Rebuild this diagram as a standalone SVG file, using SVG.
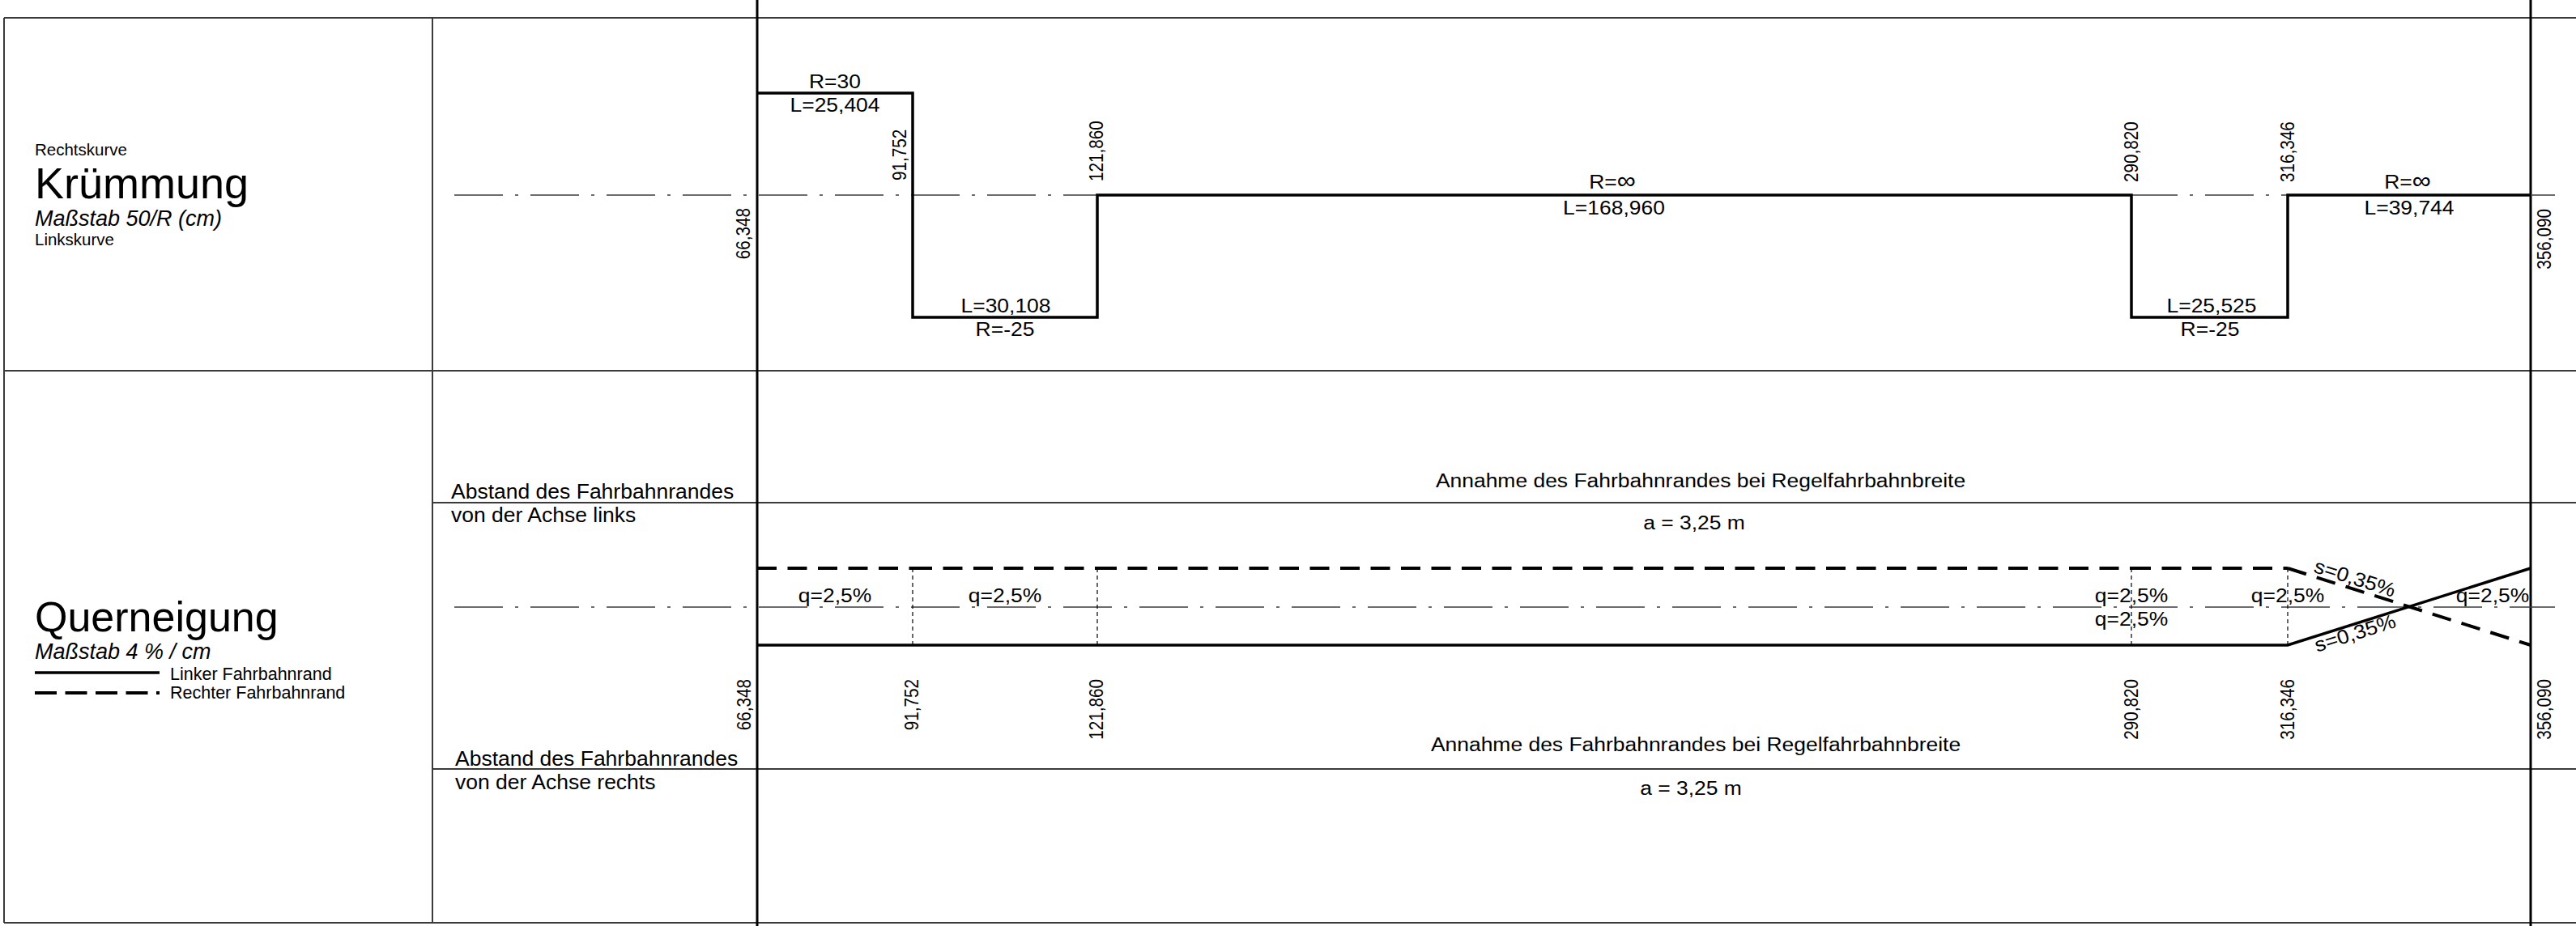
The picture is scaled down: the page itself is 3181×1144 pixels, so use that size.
<svg xmlns="http://www.w3.org/2000/svg" width="3181" height="1144" viewBox="0 0 3181 1144">
<style>
.frame{stroke:#3a3a3a;stroke-width:2;fill:none}
.bold{stroke:#000;stroke-width:3;fill:none}
.thick{stroke:#000;stroke-width:3.5;fill:none;stroke-linejoin:miter}
.axis{stroke:#3c3c3c;stroke-width:1.5;fill:none;stroke-dasharray:60 15 4 15}
.edgeL{stroke:#000;stroke-width:3.5;fill:none}
.edgeR{stroke:#000;stroke-width:4;fill:none;stroke-dasharray:24 13.5}
.dot{stroke:#000;stroke-width:1.2;fill:none;stroke-dasharray:5 4}
text{font-family:"Liberation Sans",Arial,sans-serif;fill:#000}
.lbl{font-size:26.5px}
.g{font-size:24.5px;text-anchor:middle}
.q{font-size:24.5px;text-anchor:middle}
.st{font-size:20.7px}
.small{font-size:20.5px}
.it{font-style:italic;font-size:27px}
</style>
<rect x="0" y="0" width="3181" height="1144" fill="#fff"/>
<g id="frame">
<line class="frame" x1="5" y1="22" x2="3181" y2="22"/>
<line class="frame" x1="5" y1="458" x2="3181" y2="458"/>
<line class="frame" x1="5" y1="1140" x2="3181" y2="1140"/>
<line class="frame" x1="5" y1="22" x2="5" y2="1140"/>
<line class="frame" x1="534" y1="22" x2="534" y2="1140"/>
<line class="frame" x1="534" y1="621" x2="3181" y2="621"/>
<line class="frame" x1="534" y1="950" x2="3181" y2="950"/>
<line class="bold" x1="935" y1="0" x2="935" y2="1144"/>
<line class="bold" x1="3125" y1="0" x2="3125" y2="1144"/>
</g>
<g id="kruemmung-title">
<text class="small" x="43" y="192">Rechtskurve</text>
<text x="43" y="245" style="font-size:54px">Krümmung</text>
<text class="it" x="43" y="279">Maßstab 50/R (cm)</text>
<text class="small" x="43" y="303">Linkskurve</text>
</g>
<g id="querneigung-title">
<text x="43" y="780" style="font-size:52px">Querneigung</text>
<text class="it" x="43" y="814">Maßstab 4 % / cm</text>
<line class="edgeL" x1="43" y1="831" x2="197" y2="831"/>
<line class="edgeR" x1="43" y1="856" x2="197" y2="856" style="stroke-dasharray:27 10.5"/>
<text x="210" y="840" style="font-size:21.5px">Linker Fahrbahnrand</text>
<text x="210" y="863" style="font-size:21.5px">Rechter Fahrbahnrand</text>
</g>
<g id="kruemmung-band">
<line class="axis" x1="561" y1="241" x2="3155" y2="241"/>
<path class="thick" d="M935,115 H1127 V392 H1355 V241 H2632 V392 H2825 V241 H3125"/>
<text class="g" transform="translate(1031,109) scale(1.08,1)">R=30</text>
<text class="g" transform="translate(1031,138) scale(1.08,1)">L=25,404</text>
<text class="g" transform="translate(1242,386) scale(1.08,1)">L=30,108</text>
<text class="g" transform="translate(1241,415) scale(1.08,1)">R=-25</text>
<text class="g" transform="translate(1991,233) scale(1.08,1)">R=<tspan style="font-size:30px">∞</tspan></text>
<text class="g" transform="translate(1993,265) scale(1.08,1)">L=168,960</text>
<text class="g" transform="translate(2731,386) scale(1.08,1)">L=25,525</text>
<text class="g" transform="translate(2729,415) scale(1.08,1)">R=-25</text>
<text class="g" transform="translate(2973,233) scale(1.08,1)">R=<tspan style="font-size:30px">∞</tspan></text>
<text class="g" transform="translate(2975,265) scale(1.08,1)">L=39,744</text>
<text class="st" transform="translate(926,257) rotate(-90) scale(1,1.19)" text-anchor="end">66,348</text>
<text class="st" transform="translate(1119,223) rotate(-90) scale(1,1.19)">91,752</text>
<text class="st" transform="translate(1362,224) rotate(-90) scale(1,1.19)">121,860</text>
<text class="st" transform="translate(2640,225) rotate(-90) scale(1,1.19)">290,820</text>
<text class="st" transform="translate(2833,225) rotate(-90) scale(1,1.19)">316,346</text>
<text class="st" transform="translate(3150,258) rotate(-90) scale(1,1.19)" text-anchor="end">356,090</text>
</g>
<g id="querneigung-band">
<text class="lbl" x="557" y="616">Abstand des Fahrbahnrandes</text>
<text class="lbl" x="557" y="645">von der Achse links</text>
<text class="lbl" x="562" y="946">Abstand des Fahrbahnrandes</text>
<text class="lbl" x="562" y="975">von der Achse rechts</text>
<text class="g" transform="translate(2100,602) scale(1.08,1)">Annahme des Fahrbahnrandes bei Regelfahrbahnbreite</text>
<text class="g" transform="translate(2092,654) scale(1.08,1)">a = 3,25 m</text>
<text class="g" transform="translate(2094,928) scale(1.08,1)">Annahme des Fahrbahnrandes bei Regelfahrbahnbreite</text>
<text class="g" transform="translate(2088,982) scale(1.08,1)">a = 3,25 m</text>
<line class="axis" x1="561" y1="750" x2="3155" y2="750"/>
<text class="q" transform="translate(1031,744) scale(1.08,1)">q=2,5%</text>
<text class="q" transform="translate(1241,744) scale(1.08,1)">q=2,5%</text>
<text class="q" transform="translate(2632,744) scale(1.08,1)">q=2,5%</text>
<text class="q" transform="translate(2632,773) scale(1.08,1)">q=2,5%</text>
<text class="q" transform="translate(2825,744) scale(1.08,1)">q=2,5%</text>
<text class="q" transform="translate(3078,744) scale(1.08,1)">q=2,5%</text>
<text class="q" transform="translate(2904,727) rotate(17.6) scale(1.08,1)" y="-5">s=0,35%</text>
<text class="q" transform="translate(2905,772) rotate(-17.6) scale(1.08,1)" y="19">s=0,35%</text>
<text class="st" transform="translate(927,839) rotate(-90) scale(1,1.19)" text-anchor="end">66,348</text>
<text class="st" transform="translate(1134,839) rotate(-90) scale(1,1.19)" text-anchor="end">91,752</text>
<text class="st" transform="translate(1362,839) rotate(-90) scale(1,1.19)" text-anchor="end">121,860</text>
<text class="st" transform="translate(2640,839) rotate(-90) scale(1,1.19)" text-anchor="end">290,820</text>
<text class="st" transform="translate(2833,839) rotate(-90) scale(1,1.19)" text-anchor="end">316,346</text>
<text class="st" transform="translate(3150,839) rotate(-90) scale(1,1.19)" text-anchor="end">356,090</text>
</g>
<g id="connectors">
<path class="edgeL" d="M935,797 H2825 L3125,702"/>
<line class="edgeR" x1="935" y1="702" x2="1127" y2="702"/>
<line class="edgeR" x1="1127" y1="702" x2="1355" y2="702"/>
<line class="edgeR" x1="1355" y1="702" x2="2632" y2="702"/>
<line class="edgeR" x1="2632" y1="702" x2="2825" y2="702"/>
<line class="edgeR" x1="2825" y1="702" x2="3125" y2="797"/>
<line class="dot" x1="1127" y1="702" x2="1127" y2="797"/>
<line class="dot" x1="1355" y1="702" x2="1355" y2="797"/>
<line class="dot" x1="2632" y1="702" x2="2632" y2="797"/>
<line class="dot" x1="2825" y1="702" x2="2825" y2="797"/>
</g>
</svg>
